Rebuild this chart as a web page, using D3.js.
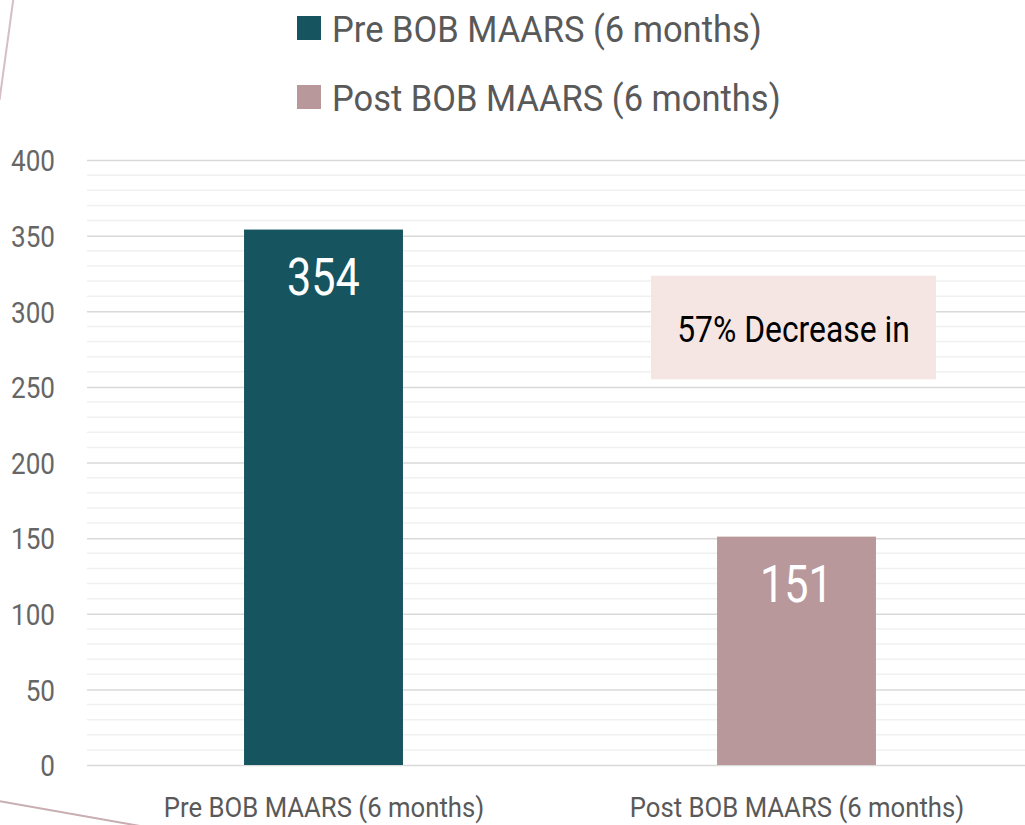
<!DOCTYPE html>
<html>
<head>
<meta charset="utf-8">
<script src="https://cdn.jsdelivr.net/npm/d3@7"></script>
<style>
  html, body { margin: 0; padding: 0; background: #fff; }
  svg { display: block; }
  text { font-family: "Roboto", "Liberation Sans", sans-serif; }
</style>
</head>
<body>
<svg id="chart" width="1025" height="825"></svg>
<script>
const categories = ["Pre BOB MAARS (6 months)", "Post BOB MAARS (6 months)"];
const values = [354, 151];
const seriesNames = ["Pre BOB MAARS (6 months)", "Post BOB MAARS (6 months)"];
const colors = ["#16545f", "#b9989c"];
const yTicks = [0, 50, 100, 150, 200, 250, 300, 350, 400];
const annotation = ["57% Decrease in"];

const W = 1025, H = 825;
const svg = d3.select("#chart");

// emulate a condensed face by compressing glyphs horizontally
function condense(sel, f) {
  sel.each(function () {
    const len = this.getComputedTextLength();
    d3.select(this).attr("textLength", len * f).attr("lengthAdjust", "spacingAndGlyphs");
  });
}

const x = d3.scalePoint().domain(categories).range([87, 1033]).padding(0.5);
const y = d3.scaleLinear().domain([0, 400]).range([765, 160]);
const barW = x.step() * 0.336;

// decorative lines
svg.append("line").attr("x1", 13.5).attr("y1", -2).attr("x2", -0.5).attr("y2", 100)
  .attr("stroke", "#d5bfc3").attr("stroke-width", 2);
svg.append("line").attr("x1", -2).attr("y1", 801).attr("x2", 140).attr("y2", 826)
  .attr("stroke", "#c8adb1").attr("stroke-width", 2);

// minor gridlines
const minor = d3.range(0, 401, 10).filter(v => v % 50 !== 0);
svg.append("g").selectAll("line").data(minor).join("line")
  .attr("x1", 87).attr("x2", W)
  .attr("y1", d => y(d)).attr("y2", d => y(d))
  .attr("stroke", "#f0f0f0").attr("stroke-width", 1.5);

// major gridlines via axis
const yAxis = d3.axisLeft(y).tickValues(yTicks).tickSize(-(W - 87)).tickPadding(32);
const gy = svg.append("g").attr("transform", "translate(87,0)").call(yAxis);
gy.select(".domain").remove();
gy.selectAll(".tick line").attr("stroke", "#d9d9d9").attr("stroke-width", 1.5);
gy.selectAll(".tick text").attr("fill", "#666666").style("font-size", "30px")
  .attr("dy", "0.36em").call(condense, 0.87);

// bars
svg.append("g").selectAll("rect").data(values).join("rect")
  .attr("x", (d, i) => x(categories[i]) - barW / 2)
  .attr("width", barW)
  .attr("y", d => y(d))
  .attr("height", d => y(0) - y(d))
  .attr("fill", (d, i) => colors[i]);

// value labels
svg.append("g").selectAll("text").data(values).join("text")
  .attr("x", (d, i) => x(categories[i]))
  .attr("y", d => y(d) + 65)
  .attr("text-anchor", "middle")
  .attr("fill", "#ffffff")
  .style("font-size", "52px")
  .text(d => d)
  .call(condense, 0.83);

// x-axis labels
const xAxis = d3.axisBottom(x).tickSize(0).tickPadding(0);
const gx = svg.append("g").attr("transform", "translate(0,765)").call(xAxis);
gx.select(".domain").remove();
gx.selectAll(".tick text").attr("fill", "#595959").style("font-size", "27.5px")
  .attr("dy", null).attr("y", 52).call(condense, 0.935);

// annotation box
const boxCx = x(categories[1]) - 3;
const ag = svg.append("g");
ag.append("rect")
  .attr("x", boxCx - 142.5).attr("width", 285)
  .attr("y", y(323.5)).attr("height", y(255) - y(323.5))
  .attr("fill", "#f5e6e3");
ag.selectAll("text").data(annotation).join("text")
  .attr("x", boxCx).attr("y", y(279.5))
  .attr("text-anchor", "middle").attr("fill", "#000000")
  .style("font-size", "37px")
  .text(d => d)
  .call(condense, 0.86);

// legend
const lg = svg.append("g").selectAll("g").data(seriesNames).join("g")
  .attr("transform", (d, i) => `translate(297,${16 + i * 69})`);
lg.append("rect").attr("width", 24).attr("height", 24).attr("fill", (d, i) => colors[i]);
lg.append("text").attr("x", 35).attr("y", 26).attr("fill", "#595959")
  .style("font-size", "36.5px").text(d => d).call(condense, 0.945);
</script>
</body>
</html>
